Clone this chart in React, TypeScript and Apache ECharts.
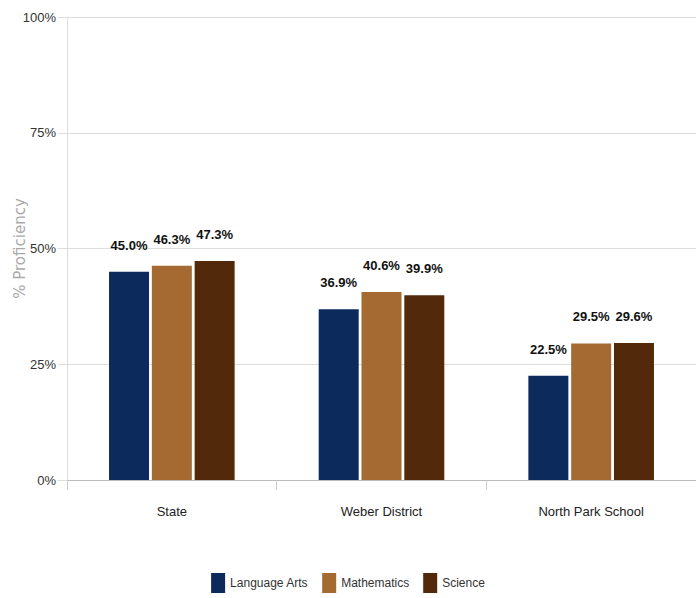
import React, { useEffect, useRef } from "react";
import * as echarts from "echarts";

const categories = ["State", "Weber District", "North Park School"];
const languageArts = [45.0, 36.9, 22.5];
const mathematics = [46.3, 40.6, 29.5];
const science = [47.3, 39.9, 29.6];
const yTicks = [0, 25, 50, 75, 100];

const FONT = "'Liberation Sans Narrow', 'Liberation Sans', Arial, sans-serif";

export default function App() {
  const ref = useRef<HTMLDivElement>(null);
  useEffect(() => {
    const chart = echarts.init(ref.current!, null, { renderer: "svg" });
    const label = {
      show: true,
      position: "top",
      distance: 20,
      formatter: (p: any) => p.value.toFixed(1) + "%",
      fontFamily: FONT,
      fontWeight: "bold",
      fontSize: 13,
      color: "#111",
    };
    const mk = (name: string, data: number[], color: string) => ({
      name,
      type: "bar",
      data,
      barWidth: 40,
      barGap: "7%",
      itemStyle: { color },
      label,
    });
    chart.setOption({
      animation: false,
      backgroundColor: "#fff",
      grid: { left: 67, right: 0, top: 17, bottom: 118, containLabel: false, outerBoundsMode: "none" },
      legend: {
        bottom: 0,
        left: "center",
        itemWidth: 14,
        itemHeight: 20,
        itemGap: 14,
        icon: "rect",
        textStyle: { fontFamily: FONT, fontSize: 12, color: "#333" },
        data: ["Language Arts", "Mathematics", "Science"],
      },
      xAxis: {
        type: "category",
        data: categories,
        axisLine: { lineStyle: { color: "#bbb" } },
        axisTick: { show: true, length: 10, lineStyle: { color: "#ccc" } },
        axisLabel: { fontFamily: FONT, fontSize: 13, color: "#222", margin: 25 },
      },
      yAxis: {
        type: "value",
        min: yTicks[0],
        max: yTicks[yTicks.length - 1],
        interval: 25,
        name: "% Proficiency",
        nameLocation: "middle",
        nameGap: 40,
        nameMoveOverlap: false,
        nameTextStyle: { fontFamily: "'DejaVu Sans', sans-serif", fontSize: 15, color: "#aaa" },
        axisLine: { show: true, lineStyle: { color: "#ddd" } },
        axisTick: { show: true, length: 9, lineStyle: { color: "#ddd" } },
        axisLabel: {
          fontFamily: FONT,
          fontSize: 13,
          color: "#333",
          margin: 11,
          formatter: (v: number) => v + "%",
        },
        splitLine: { lineStyle: { color: "#ddd" } },
      },
      series: [
        mk("Language Arts", languageArts, "#0c2b5c"),
        mk("Mathematics", mathematics, "#a46a32"),
        mk("Science", science, "#52290b"),
      ],
    });
    return () => chart.dispose();
  }, []);
  return <div ref={ref} style={{ width: 696, height: 598, position: "absolute", left: 0, top: 0 }} />;
}
